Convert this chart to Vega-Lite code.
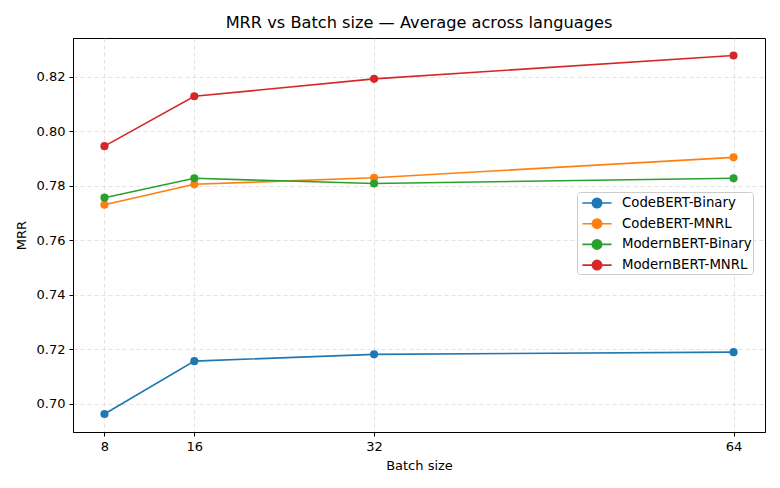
{
  "$schema": "https://vega.github.io/schema/vega-lite/v6.json",
  "width": 692,
  "height": 394,
  "autosize": {"type": "none"},
  "padding": {"left": 73, "top": 38, "right": 15, "bottom": 56},
  "background": "white",
  "config": {
    "font": "DejaVu Sans",
    "view": {"stroke": "black", "strokeWidth": 1},
    "axis": {
      "labelFont": "DejaVu Sans",
      "titleFont": "DejaVu Sans",
      "labelFontSize": 13,
      "titleFontSize": 13,
      "titleFontWeight": "normal",
      "labelColor": "#000",
      "titleColor": "#000",
      "domainColor": "#000",
      "tickColor": "#000",
      "tickSize": 4,
      "gridColor": "#cccccc",
      "gridOpacity": 0.7,
      "gridDash": [4, 3],
      "gridWidth": 0.8
    }
  },
  "title": {
    "text": "MRR vs Batch size — Average across languages",
    "font": "DejaVu Sans",
    "fontSize": 16.2,
    "fontWeight": "normal",
    "color": "#000",
    "anchor": "middle",
    "offset": 7
  },
  "data": {
    "values": [
      {"batch": 8, "model": "CodeBERT-Binary", "mrr": 0.6963},
      {"batch": 16, "model": "CodeBERT-Binary", "mrr": 0.7157},
      {"batch": 32, "model": "CodeBERT-Binary", "mrr": 0.7182},
      {"batch": 64, "model": "CodeBERT-Binary", "mrr": 0.7190},
      {"batch": 8, "model": "CodeBERT-MNRL", "mrr": 0.7731},
      {"batch": 16, "model": "CodeBERT-MNRL", "mrr": 0.7806},
      {"batch": 32, "model": "CodeBERT-MNRL", "mrr": 0.7830},
      {"batch": 64, "model": "CodeBERT-MNRL", "mrr": 0.7905},
      {"batch": 8, "model": "ModernBERT-Binary", "mrr": 0.7757},
      {"batch": 16, "model": "ModernBERT-Binary", "mrr": 0.7828},
      {"batch": 32, "model": "ModernBERT-Binary", "mrr": 0.7809},
      {"batch": 64, "model": "ModernBERT-Binary", "mrr": 0.7828},
      {"batch": 8, "model": "ModernBERT-MNRL", "mrr": 0.7946},
      {"batch": 16, "model": "ModernBERT-MNRL", "mrr": 0.8129},
      {"batch": 32, "model": "ModernBERT-MNRL", "mrr": 0.8193},
      {"batch": 64, "model": "ModernBERT-MNRL", "mrr": 0.8279}
    ]
  },
  "mark": {"type": "line", "strokeWidth": 1.6, "point": {"filled": true, "size": 66, "opacity": 1}},
  "encoding": {
    "x": {
      "field": "batch",
      "type": "quantitative",
      "title": "Batch size",
      "scale": {"domain": [5.2, 66.8], "nice": false, "zero": false},
      "axis": {"values": [8, 16, 32, 64], "format": "d", "titlePadding": 6, "labelPadding": 4}
    },
    "y": {
      "field": "mrr",
      "type": "quantitative",
      "title": "MRR",
      "scale": {"domain": [0.6897, 0.8343], "nice": false, "zero": false},
      "axis": {"values": [0.70, 0.72, 0.74, 0.76, 0.78, 0.80, 0.82], "format": ".2f", "titlePadding": 8, "labelPadding": 4}
    },
    "color": {
      "field": "model",
      "type": "nominal",
      "scale": {
        "domain": ["CodeBERT-Binary", "CodeBERT-MNRL", "ModernBERT-Binary", "ModernBERT-MNRL"],
        "range": ["#1f77b4", "#ff7f0e", "#2ca02c", "#d62728"]
      },
      "legend": {
        "title": null,
        "orient": "none",
        "legendX": 504,
        "legendY": 154,
        "labelFont": "DejaVu Sans",
        "labelFontSize": 13.3,
        "labelColor": "#000",
        "labelExpr": "datum.label + '\u2002 '",
        "symbolType": "M-1.62,0L1.62,0M-0.52,0A0.52,0.52 0 1,0 0.52,0A0.52,0.52 0 1,0 -0.52,0Z",
        "symbolSize": 324,
        "symbolStrokeWidth": 1.6,
        "symbolOffset": 9,
        "rowPadding": 2.7,
        "labelOffset": 15,
        "padding": 1,
        "strokeColor": "#cccccc",
        "fillColor": "rgba(255,255,255,0.85)",
        "cornerRadius": 3,
        "encode": {
          "symbols": {
            "update": {
              "fill": {"scale": "color", "field": "value"},
              "stroke": {"scale": "color", "field": "value"},
              "fillOpacity": {"value": 1}
            }
          }
        }
      }
    }
  }
}
